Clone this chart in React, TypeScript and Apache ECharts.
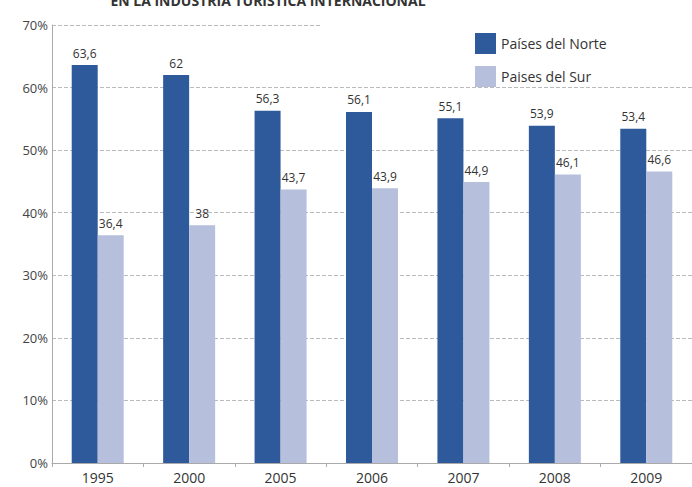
import React, { useEffect, useRef } from "react";
import * as echarts from "echarts";

const categories = ["1995", "2000", "2005", "2006", "2007", "2008", "2009"];
const norte = [63.6, 62, 56.3, 56.1, 55.1, 53.9, 53.4];
const sur = [36.4, 38, 43.7, 43.9, 44.9, 46.1, 46.6];
const seriesNames = ["Países del Norte", "Paises del Sur"];
const titleText = "EN LA INDUSTRIA TURÍSTICA INTERNACIONAL";

const FONT = "'Open Sans', 'Noto Sans', sans-serif";

export default function App() {
  const ref = useRef<HTMLDivElement>(null);
  useEffect(() => {
    if (!ref.current) return;
    const chart = echarts.init(ref.current, null, { renderer: "svg" });
    const fmt = (p: any) => String(p.value).replace(".", ",");
    chart.setOption({
      animation: false,
      textStyle: { fontFamily: FONT },
      grid: { left: 52, right: 0, top: 25, bottom: 24, containLabel: false },
      legend: {
        orient: "vertical",
        left: 470,
        top: 28,
        itemWidth: 21,
        itemHeight: 21,
        itemGap: 12,
        icon: "rect",
        textStyle: { fontSize: 14, color: "#333", fontFamily: FONT },
        data: seriesNames,
      },
      graphic: [
        {
          type: "rect",
          z: 100,
          shape: { x: 322, y: 20, width: 370, height: 10 },
          style: { fill: "#fff" },
        },
        {
          type: "text",
          z: 101,
          x: 268,
          y: -7,
          style: {
            text: titleText,
            fontSize: 14,
            fontWeight: "bold",
            fill: "#333",
            align: "center",
            verticalAlign: "top",
            fontFamily: FONT,
          },
        },
      ],
      xAxis: {
        type: "category",
        data: categories,
        axisLine: { lineStyle: { color: "#aaa", width: 1 } },
        axisTick: { show: true, length: 4, lineStyle: { color: "#aaa" } },
        axisLabel: { fontSize: 14, color: "#333", margin: 7, fontFamily: FONT },
      },
      yAxis: {
        type: "value",
        min: 0,
        max: 70,
        interval: 10,
        axisLine: { show: true, lineStyle: { color: "#aaa", width: 1 } },
        axisTick: { show: false },
        axisLabel: {
          fontSize: 13,
          color: "#444",
          margin: 4,
          formatter: "{value}%",
          fontFamily: FONT,
        },
        splitLine: { lineStyle: { color: "#bbb", type: "dashed", width: 1 } },
      },
      series: [
        {
          name: seriesNames[0],
          type: "bar",
          data: norte,
          barWidth: 26,
          barGap: "0%",
          itemStyle: { color: "#2e5a9c" },
          label: {
            show: true,
            position: "top",
            distance: 6,
            fontSize: 12,
            color: "#333",
            formatter: fmt,
            fontFamily: FONT,
          },
        },
        {
          name: seriesNames[1],
          type: "bar",
          data: sur,
          barWidth: 26,
          barGap: "0%",
          itemStyle: { color: "#b6bfdc" },
          label: {
            show: true,
            position: "top",
            distance: 6,
            fontSize: 12,
            color: "#333",
            formatter: fmt,
            fontFamily: FONT,
          },
        },
      ],
    });
    return () => chart.dispose();
  }, []);
  return (
    <div
      ref={ref}
      style={{ position: "fixed", left: 0, top: 0, width: 692, height: 487, background: "#fff" }}
    />
  );
}
